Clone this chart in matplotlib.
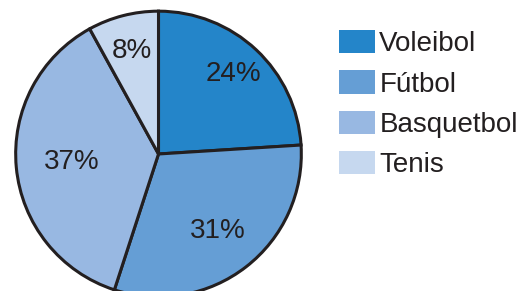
import numpy as np
import matplotlib.pyplot as plt
from matplotlib.patches import Patch

deportes = ['Voleibol', 'Fútbol', 'Basquetbol', 'Tenis']
porcentajes = [24, 31, 37, 8]
colores = ['#2485c9', '#659ed5', '#98b8e2', '#c6d8ef']
dist_etiquetas = [0.76, 0.67, 0.60, 0.73]

plt.rcParams['font.family'] = ['Liberation Sans', 'DejaVu Sans']

fig = plt.figure(figsize=(5.27, 2.91), dpi=100)
W, H = 527, 291
r = 145
cx, cy = 158.5, 154
ax = fig.add_axes([(cx - r) / W, (H - cy - r) / H, 2 * r / W, 2 * r / H])

wedges, _ = ax.pie(porcentajes, colors=colores, startangle=90, counterclock=False,
                   radius=0.985, frame=True,
                   wedgeprops=dict(edgecolor='#231f20', linewidth=2.2))
ax.set_xlim(-1, 1)
ax.set_ylim(-1, 1)
ax.axis('off')

for w, p, d in zip(wedges, porcentajes, dist_etiquetas):
    ang = np.deg2rad((w.theta1 + w.theta2) / 2)
    ax.text(d * np.cos(ang), d * np.sin(ang), f'{p}%', ha='center', va='center',
            fontsize=20, color='#231f20')

handles = [Patch(facecolor=c, edgecolor='none') for c in colores]
fig.legend(handles, deportes, loc='upper left', bbox_to_anchor=(339 / W, 1 - 30 / H),
           frameon=False, fontsize=20, handlelength=1.3, handleheight=0.9,
           handletextpad=0.15, labelspacing=0.48, borderaxespad=0, borderpad=0,
           labelcolor='#231f20')

fig.savefig('out.png', dpi=100)
